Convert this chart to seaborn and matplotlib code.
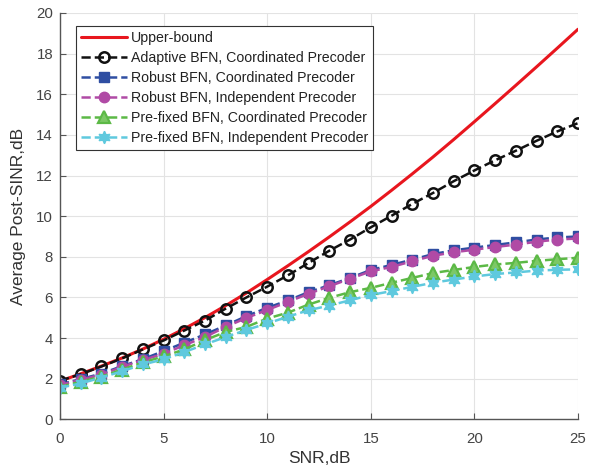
import numpy as np
import pandas as pd
import matplotlib
matplotlib.use("Agg")
import matplotlib.pyplot as plt
import seaborn as sns

snr = list(range(26))
upper_bound = [1.88, 2.24, 2.62, 3.02, 3.46, 3.94, 4.46, 5.01, 5.6, 6.22, 6.88, 7.56, 8.26, 8.98,
               9.72, 10.48, 11.27, 12.08, 12.91, 13.77, 14.65, 15.54, 16.44, 17.35, 18.27, 19.2]
adaptive_coord = [1.9, 2.22, 2.6, 3.0, 3.44, 3.88, 4.37, 4.86, 5.45, 6.0, 6.53, 7.09, 7.7, 8.3,
                  8.85, 9.45, 10.02, 10.6, 11.14, 11.72, 12.25, 12.75, 13.22, 13.71, 14.17, 14.58]
robust_coord = [1.72, 1.98, 2.25, 2.62, 2.96, 3.36, 3.77, 4.18, 4.62, 5.08, 5.49, 5.85, 6.26, 6.6,
                6.96, 7.35, 7.6, 7.86, 8.13, 8.32, 8.45, 8.58, 8.71, 8.85, 8.95, 9.0]
robust_indep = [1.68, 1.95, 2.2, 2.58, 2.92, 3.22, 3.65, 4.05, 4.55, 4.99, 5.38, 5.78, 6.18, 6.55,
                6.92, 7.28, 7.5, 7.78, 8.05, 8.22, 8.35, 8.48, 8.6, 8.74, 8.85, 8.9]
prefixed_coord = [1.6, 1.85, 2.1, 2.45, 2.8, 3.1, 3.44, 3.9, 4.3, 4.55, 4.96, 5.25, 5.65, 5.98,
                  6.26, 6.47, 6.72, 6.96, 7.2, 7.35, 7.5, 7.62, 7.7, 7.8, 7.88, 7.95]
prefixed_indep = [1.55, 1.77, 2.05, 2.37, 2.7, 2.95, 3.31, 3.69, 4.05, 4.4, 4.72, 5.05, 5.37, 5.6,
                  5.86, 6.12, 6.31, 6.52, 6.72, 6.88, 7.03, 7.15, 7.23, 7.32, 7.36, 7.38]

labels = ["Upper-bound",
          "Adaptive BFN, Coordinated Precoder",
          "Robust BFN, Coordinated Precoder",
          "Robust BFN, Independent Precoder",
          "Pre-fixed BFN, Coordinated Precoder",
          "Pre-fixed BFN, Independent Precoder"]

sns.set_theme(style="white")
plt.rcParams['font.family'] = ['Liberation Sans', 'DejaVu Sans']

fig = plt.figure(figsize=(5.93, 4.68), dpi=100)
ax = fig.add_axes([60/593, (468-419.3)/468, (578-60)/593, (419.3-13)/468])

series = [
    (upper_bound, dict(color='#E8161E', linestyle='-', linewidth=2.2, marker=None)),
    (adaptive_coord, dict(color='#111111', linestyle='--', linewidth=1.8, marker='o',
                          markerfacecolor='none', markeredgecolor='#111111',
                          markersize=7.5, markeredgewidth=1.8)),
    (robust_coord, dict(color='#2F4EA2', linestyle='--', linewidth=1.8, marker='s',
                        markerfacecolor='#2F4EA2', markeredgecolor='#2F4EA2',
                        markersize=7, markeredgewidth=1.0)),
    (robust_indep, dict(color='#B04AA5', linestyle='--', linewidth=1.8, marker='o',
                        markerfacecolor='#B04AA5', markeredgecolor='#B04AA5',
                        markersize=7.5, markeredgewidth=1.0)),
    (prefixed_coord, dict(color='#5CB946', linestyle='--', linewidth=1.8, marker='^',
                          markerfacecolor='#7CC866', markeredgecolor='#5CB946',
                          markersize=8.5, markeredgewidth=1.6)),
    (prefixed_indep, dict(color='#5FC9DE', linestyle='--', linewidth=1.8, marker=(6, 1, 0),
                          markerfacecolor='#5FC9DE', markeredgecolor='#5FC9DE',
                          markersize=9, markeredgewidth=1.0)),
]

for (vals, kw), lab in zip(series, labels):
    df = pd.DataFrame({"snr": snr, "val": vals})
    sns.lineplot(data=df, x="snr", y="val", ax=ax, label=lab, **kw)

ax.set_xlim(0, 25)
ax.set_ylim(0, 20)
ax.set_xticks([0, 5, 10, 15, 20, 25])
ax.set_yticks(list(range(0, 21, 2)))
ax.grid(True, color='#e3e3e3', linewidth=0.8)
ax.set_axisbelow(True)
for s in ['top', 'right']:
    ax.spines[s].set_visible(False)
for s in ['left', 'bottom']:
    ax.spines[s].set_color('#555555')
    ax.spines[s].set_linewidth(1.0)
ax.tick_params(direction='in', length=4, width=0.8, color='#555555',
               labelsize=10.8, labelcolor='#444444', left=True, bottom=True)
ax.tick_params(axis='x', pad=9)
ax.tick_params(axis='y', pad=5)
ax.set_xlabel("SNR,dB", fontsize=12.5, color='#333333', labelpad=4)
ax.set_ylabel("Average Post-SINR,dB", fontsize=12.5, color='#333333', labelpad=7)

leg = ax.legend(loc='upper left', bbox_to_anchor=(0.031, 0.968), borderaxespad=0,
                fontsize=10.2, frameon=True, fancybox=False, framealpha=1,
                edgecolor='#333333', handlelength=3.25, handletextpad=0.3,
                labelspacing=0.43, borderpad=0.32)
leg.get_frame().set_linewidth(0.8)
for t in leg.get_texts():
    t.set_color('#222222')

fig.savefig("out.png", dpi=100)
